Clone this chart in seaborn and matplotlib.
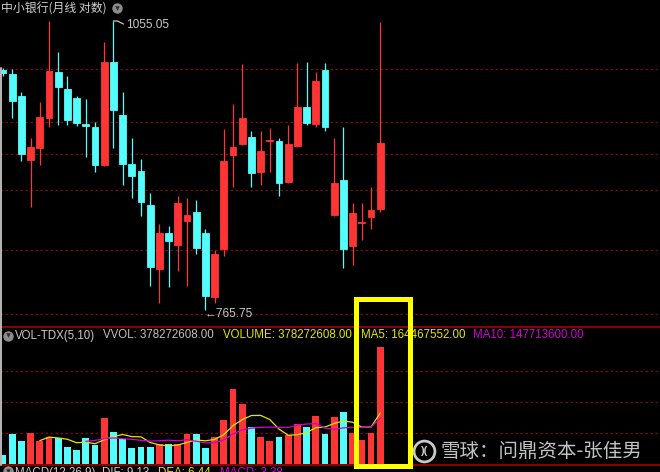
import numpy as np
import pandas as pd
import matplotlib
matplotlib.use("Agg")
import matplotlib.pyplot as plt
import seaborn as sns
from matplotlib.lines import Line2D
from matplotlib.patches import Rectangle

# ---------------- data (monthly, log price) ----------------
opens = [999.2, 994.8, 970.8, 904.3, 916.4, 947.4, 997.0, 978.4, 968.7, 941.1,
         938.0, 899.3, 1008.2, 950.6, 900.3, 893.3, 860.2, 801.3, 833.9, 822.9,
         845.1, 853.6, 833.9, 776.9, 819.3, 909.3, 920.5, 927.7, 892.3, 923.6,
         923.6, 882.4, 918.5, 959.1, 941.1, 999.2, 850.7, 884.4, 822.0, 843.2,
         848.8, 856.4]
closes = [995.9, 965.4, 910.3, 917.5, 948.5, 998.1, 980.6, 945.3, 942.2, 939.1,
          899.3, 1008.2, 955.9, 900.3, 888.4, 863.1, 803.1, 833.9, 826.6, 862.1,
          850.7, 820.2, 777.6, 814.8, 903.3, 917.5, 947.4, 891.3, 913.4, 924.6,
          881.5, 920.5, 959.1, 942.2, 987.1, 938.0, 881.5, 819.3, 852.6, 844.1,
          855.5, 921.5]
highs = [1001.4, 1000.3, 975.1, 926.7, 964.4, 1054.5, 1019.4, 992.6, 970.8, 967.6,
         943.2, 1030.7, 1055.05, 975.1, 926.7, 905.3, 871.8, 842.3, 840.4, 868.9,
         866.9, 865.0, 837.6, 818.4, 935.9, 962.3, 1005.9, 933.9, 933.9, 936.9,
         926.7, 940.1, 1007.0, 1008.2, 997.0, 1007.0, 926.7, 938.0, 862.1, 862.1,
         877.6, 1053.9]
lows = [992.6, 947.4, 903.3, 858.3, 899.3, 938.0, 940.1, 940.1, 939.1, 907.3,
        892.3, 898.3, 916.4, 879.6, 866.9, 849.8, 786.3, 771.6, 785.4, 799.5,
        786.3, 814.8, 765.75, 771.6, 812.9, 877.6, 919.5, 877.6, 879.6, 892.3,
        868.9, 881.5, 917.5, 940.1, 938.0, 933.9, 849.8, 802.2, 804.9, 827.5,
        837.6, 853.6]
volumes = [29e6, 97e6, 75e6, 101e6, 75e6, 86e6, 83e6, 54e6, 45e6, 85e6,
           60e6, 148e6, 103e6, 80e6, 51e6, 56e6, 56e6, 65e6, 64e6, 65e6,
           97e6, 97e6, 51e6, 86e6, 142e6, 242e6, 194e6, 118e6, 88e6, 75e6,
           88e6, 94e6, 128e6, 120e6, 156e6, 98e6, 152e6, 168e6, 100e6, 76e6,
           100e6, 378272608]
price_grid = [1000.3, 943.2, 910.3, 874.7, 818.4, 762.6]
volume_grid = [1e8, 2e8, 3e8]

title_text = "中小银行(月线 对数)"
vol_name = "VOL-TDX(5,10)"
vvol_text = "VVOL: 378272608.00"
volume_text = "VOLUME: 378272608.00"
ma5_text = "MA5: 164467552.00"
ma10_text = "MA10: 147713600.00"
macd_parts = ["MACD(12,26,9)", "DIF: 9.13", "DEA: 6.44", "MACD: 3.38"]
watermark = "雪球：问鼎资本-张佳男"

# ---------------- style ----------------
sns.set_style("dark", rc={"axes.facecolor": "black", "figure.facecolor": "black"})
plt.rcParams["font.family"] = ["Liberation Sans", "DejaVu Sans"]
CJK = ["Noto Sans CJK SC", "DejaVu Sans"]

RED = "#ff3434"
CYAN = "#54fcfc"
YELLOW = "#e6e600"
MAGENTA = "#d000d0"
GRID = "#7a0c0c"
SEP = "#a80000"
TXT = "#c8c8c8"

W, H = 660, 472
fig = plt.figure(figsize=(6.6, 4.72), dpi=100, facecolor="black")


def fx(p):
    return p / W


def fy(p):
    return 1 - p / H


ax = fig.add_axes([0, fy(327), 1, 327 / H])
axv = fig.add_axes([0, fy(464), 1, (464 - 327) / H])
for a in (ax, axv):
    a.set_facecolor("black")

o = np.array(opens); c = np.array(closes)
hi = np.array(highs); lo = np.array(lows)
n = len(o)
idx = np.arange(n)
up = c >= o
cols = np.where(up, RED, CYAN)

# ---------------- price panel ----------------
ax.set_yscale("log")
for p in price_grid:
    ax.axhline(p, color=GRID, lw=0.9, ls=(0, (2, 2)), zorder=1)
ax.vlines(idx, lo, hi, colors=cols, lw=0.9, zorder=2)
ax.bar(idx, np.abs(c - o), bottom=np.minimum(o, c), width=0.72, color=cols,
       edgecolor=cols, linewidth=0.6, zorder=3)
ax.set_ylim(751.35, 1079.9)

# ---------------- volume panel ----------------
vdf = pd.DataFrame({"i": idx, "vol": volumes, "dir": np.where(up, "up", "down")})
vdf["ma5"] = vdf["vol"].rolling(5).mean()
vdf["ma10"] = vdf["vol"].rolling(10).mean()
for v in volume_grid:
    axv.axhline(v, color=GRID, lw=0.9, ls=(0, (2, 2)), zorder=0.5)
sns.barplot(data=vdf, x="i", y="vol", hue="dir", palette={"up": RED, "down": CYAN},
            native_scale=True, dodge=False, width=0.72, saturation=1, errorbar=None,
            legend=False, linewidth=0, ax=axv)
sns.lineplot(data=vdf, x="i", y="ma5", color=YELLOW, lw=0.9, ax=axv)
sns.lineplot(data=vdf, x="i", y="ma10", color=MAGENTA, lw=0.9, ax=axv)
axv.set_ylim(0, 137 / 31 * 1e8)

for a in (ax, axv):
    a.set_xlim(-3 / 9.2, 657 / 9.2)
    a.set_axis_off()

# ---------------- high / low labels (anchored to data) ----------------
imax = int(np.argmax(hi)); imin = int(np.argmin(lo))
px, py = ax.transData.transform((imax, hi[imax]))
fig.add_artist(Line2D([px, px + 4, px + 10], [py, py, py - 3], color=TXT, lw=0.9,
                      transform=None))
fig.text((px + 12.5) / W, (py - 4) / H, f"{hi[imax]:.2f}", color=TXT, fontsize=8.6,
         va="center", ha="left")
qx, qy = ax.transData.transform((imin, lo[imin]))
fig.text((qx - 1) / W, (qy - 4) / H, "\u2190" + f"{lo[imin]:.2f}", color=TXT,
         fontsize=8.6, va="center", ha="left")

# ---------------- frame lines ----------------
fig.add_artist(Line2D([0, 1], [fy(327), fy(327)], color=SEP, lw=1.2, transform=fig.transFigure))
fig.add_artist(Line2D([0, 1], [fy(465), fy(465)], color=SEP, lw=1.2, transform=fig.transFigure))
fig.add_artist(Line2D([fx(0.8), fx(0.8)], [fy(68), fy(465)], color="#b8b8b8", lw=1.4,
                      transform=fig.transFigure))

# ---------------- texts ----------------
fig.text(fx(1), fy(8.5), title_text, family=CJK, fontsize=8.6, color="#d0d0d0",
         va="center", ha="left")


def icon(x, y):
    fig.add_artist(Line2D([fx(x)], [fy(y)], marker="o", markersize=7.5, color="#8c8c8c",
                          markeredgewidth=0, transform=fig.transFigure))
    fig.add_artist(Line2D([fx(x)], [fy(y - 0.5)], marker="v", markersize=3.2, color="#2a2a2a",
                          markeredgewidth=0, transform=fig.transFigure))


icon(117, 8)
icon(7.5, 335.5)
icon(7.5, 471)

fs = 8.3
fig.text(fx(15), fy(335.5), vol_name, color="#c8c8c8", fontsize=fs, va="center")
fig.text(fx(103), fy(335.5), vvol_text, color="#c0c0c0", fontsize=fs, va="center")
fig.text(fx(223), fy(335.5), volume_text, color=YELLOW, fontsize=fs, va="center")
fig.text(fx(361), fy(335.5), ma5_text, color=YELLOW, fontsize=fs, va="center")
fig.text(fx(473), fy(335.5), ma10_text, color=MAGENTA, fontsize=fs, va="center")

# MACD header, cut by the bottom edge of the screenshot as in the reference
macd_x = [15, 102, 158, 220]
macd_c = ["#c8c8c8", "#c8c8c8", YELLOW, MAGENTA]
for t, xx, cc in zip(macd_parts, macd_x, macd_c):
    fig.text(fx(xx), fy(467), t, color=cc, fontsize=fs, va="top")

# watermark
fig.add_artist(Line2D([fx(423.5)], [fy(451)], marker="o", markersize=15, markerfacecolor="none",
                      markeredgecolor="#c8c8c8", markeredgewidth=2.0, transform=fig.transFigure))
fig.text(fx(423.5), fy(451.5), ")(", color="#c8c8c8", fontsize=8, fontweight="bold",
         ha="center", va="center")
fig.text(fx(440), fy(451), watermark, family=CJK, fontsize=14, color="#cfcfcf",
         va="center", ha="left", alpha=0.95)

# highlight box
fig.add_artist(Rectangle((fx(355.5), fy(465.5)), fx(410) - fx(355.5), fy(298.5) - fy(465.5),
                         fill=False, edgecolor="#ffff00", lw=3.6, transform=fig.transFigure,
                         zorder=10))

fig.savefig("out.png", dpi=100, facecolor="black")
